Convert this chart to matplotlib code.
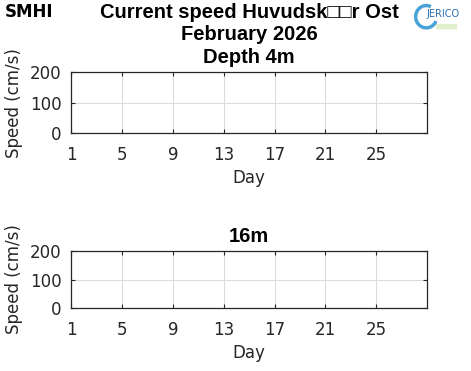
import matplotlib
matplotlib.use("Agg")
import matplotlib.pyplot as plt
import matplotlib.patches as mpatches

# data (no measurements for the month -> empty panels)
days_4m = []
speed_4m = []
days_16m = []
speed_16m = []

xticks = [1, 5, 9, 13, 17, 21, 25]
yticks = [0, 100, 200]
xlim = (1, 29)
ylim = (0, 200)

plt.rcParams['font.family'] = ['DejaVu Sans']

fig = plt.figure(figsize=(4.71, 3.71), dpi=100)

ax1 = fig.add_axes([0.1507, 0.6415, 0.7565, 0.1636])
ax2 = fig.add_axes([0.1507, 0.169, 0.7565, 0.155])

for ax, d, s in [(ax1, days_4m, speed_4m), (ax2, days_16m, speed_16m)]:
    ax.plot(d, s, color='#0072bd', linewidth=1)
    ax.set_xlim(*xlim)
    ax.set_ylim(*ylim)
    ax.set_xticks(xticks)
    ax.set_yticks(yticks)
    ax.grid(True, color='#dcdcdc', linewidth=0.8)
    ax.set_axisbelow(True)
    ax.tick_params(direction='in', length=3, width=0.8, colors='#262626',
                   labelsize=12, top=True, right=True)
    ax.tick_params(axis='x', pad=9)
    ax.tick_params(axis='y', pad=7)
    for sp in ax.spines.values():
        sp.set_color('#262626')
        sp.set_linewidth(0.9)
    ax.set_xlabel('Day', fontsize=12, color='#262626', labelpad=4)
    ax.set_ylabel('Speed (cm/s)', fontsize=12, color='#262626', labelpad=5)

ax1.set_title('Current speed Huvudsk\u25a1\u25a1r Ost\nFebruary 2026\nDepth 4m',
              fontsize=14.5, fontweight='bold', family='Liberation Sans',
              linespacing=1.22, pad=7)
ax2.set_title('16m', fontsize=14.5, fontweight='bold', family='Liberation Sans', pad=6)

# logos as text
fig.text(0.010, 0.968, 'SMHI', fontsize=12, fontweight='heavy',
         family='Liberation Sans Narrow', va='center', ha='left', color='black')
fig.patches.append(mpatches.Arc((0.905, 0.955), 0.045, 0.06, theta1=70, theta2=330,
                                transform=fig.transFigure, color='#4aa3d8', linewidth=2.5))
fig.text(0.905, 0.962, 'JERICO', fontsize=7, family='DejaVu Sans',
         va='center', ha='left', color='#2a6fb0')
fig.text(0.925, 0.93, '|||||||||||', fontsize=4, family='DejaVu Sans',
         va='center', ha='left', color='#8cc63f')

fig.savefig('out.png', dpi=100)
